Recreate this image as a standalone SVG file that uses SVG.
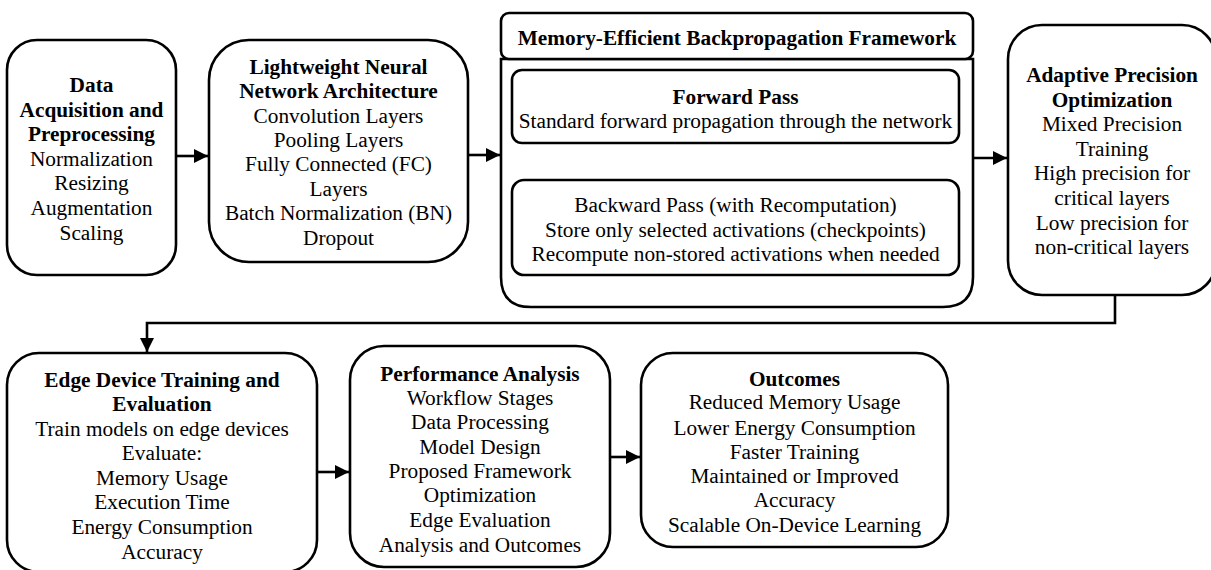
<svg xmlns="http://www.w3.org/2000/svg" width="1211" height="570" viewBox="0 0 1211 570">
<style>
.box{fill:#fff;stroke:#000;stroke-width:2.6}
.t{font-family:"Liberation Serif","Times New Roman",serif;font-size:21.3px;fill:#000;text-anchor:middle}
.b{font-weight:bold}
.c{fill:none;stroke:#000;stroke-width:2.6}
</style>
<defs>
<marker id="ah" markerUnits="userSpaceOnUse" markerWidth="16" markerHeight="16" refX="14" refY="7" orient="auto">
<path d="M0,0 L14,7 L0,14 Z" fill="#000"/>
</marker>
</defs>
<rect width="1211" height="570" fill="#fff"/>
<g id="connectors">
<line class="c" x1="176" y1="156" x2="208" y2="156" marker-end="url(#ah)"/>
<line class="c" x1="468" y1="155" x2="500" y2="155" marker-end="url(#ah)"/>
<line class="c" x1="973" y1="158" x2="1007" y2="158" marker-end="url(#ah)"/>
<polyline class="c" points="1115,295 1115,323 147,323 147,352" marker-end="url(#ah)"/>
<line class="c" x1="317" y1="472" x2="349" y2="472" marker-end="url(#ah)"/>
<line class="c" x1="610" y1="457" x2="640" y2="457" marker-end="url(#ah)"/>
</g>
<g id="n1">
<rect class="box" x="7" y="40" width="169" height="235" rx="30"/>
<text class="t b" x="91.5" y="92">Data</text>
<text class="t b" x="91.5" y="117">Acquisition and</text>
<text class="t b" x="91.5" y="141">Preprocessing</text>
<text class="t" x="91.5" y="166">Normalization</text>
<text class="t" x="91.5" y="190">Resizing</text>
<text class="t" x="91.5" y="215">Augmentation</text>
<text class="t" x="91.5" y="240">Scaling</text>
</g>
<g id="n2">
<rect class="box" x="209" y="40" width="259" height="222" rx="40"/>
<text class="t b" x="338.5" y="74">Lightweight Neural</text>
<text class="t b" x="338.5" y="98">Network Architecture</text>
<text class="t" x="338.5" y="123">Convolution Layers</text>
<text class="t" x="338.5" y="147">Pooling Layers</text>
<text class="t" x="338.5" y="171">Fully Connected (FC)</text>
<text class="t" x="338.5" y="196">Layers</text>
<text class="t" x="338.5" y="220">Batch Normalization (BN)</text>
<text class="t" x="338.5" y="245">Dropout</text>
</g>
<g id="n3">
<path class="box" d="M501,59 V277 Q501,307 531,307 H943 Q973,307 973,277 V59 Z"/>
<rect class="box" x="501" y="13" width="472" height="46" rx="8"/>
<text class="t b" x="737" y="45">Memory-Efficient Backpropagation Framework</text>
<g id="n3a">
<rect class="box" x="512" y="70" width="447" height="73" rx="10"/>
<text class="t b" x="735.5" y="104">Forward Pass</text>
<text class="t" x="735.5" y="128">Standard forward propagation through the network</text>
</g>
<g id="n3b">
<rect class="box" x="512" y="180" width="447" height="95" rx="12"/>
<text class="t" x="735.5" y="212">Backward Pass (with Recomputation)</text>
<text class="t" x="735.5" y="237">Store only selected activations (checkpoints)</text>
<text class="t" x="735.5" y="261">Recompute non-stored activations when needed</text>
</g>
</g>
<g id="n4">
<rect class="box" x="1008" y="25" width="208" height="270" rx="34"/>
<text class="t b" x="1112" y="82">Adaptive Precision</text>
<text class="t b" x="1112" y="107">Optimization</text>
<text class="t" x="1112" y="131">Mixed Precision</text>
<text class="t" x="1112" y="156">Training</text>
<text class="t" x="1112" y="180">High precision for</text>
<text class="t" x="1112" y="205">critical layers</text>
<text class="t" x="1112" y="230">Low precision for</text>
<text class="t" x="1112" y="254">non-critical layers</text>
</g>
<g id="n5">
<rect class="box" x="7" y="353" width="310" height="219" rx="32"/>
<text class="t b" x="162" y="387">Edge Device Training and</text>
<text class="t b" x="162" y="411">Evaluation</text>
<text class="t" x="162" y="436">Train models on edge devices</text>
<text class="t" x="162" y="460">Evaluate:</text>
<text class="t" x="162" y="485">Memory Usage</text>
<text class="t" x="162" y="509">Execution Time</text>
<text class="t" x="162" y="534">Energy Consumption</text>
<text class="t" x="162" y="559">Accuracy</text>
</g>
<g id="n6">
<rect class="box" x="350" y="346" width="260" height="221" rx="34"/>
<text class="t b" x="480" y="381">Performance Analysis</text>
<text class="t" x="480" y="405">Workflow Stages</text>
<text class="t" x="480" y="429">Data Processing</text>
<text class="t" x="480" y="454">Model Design</text>
<text class="t" x="480" y="478">Proposed Framework</text>
<text class="t" x="480" y="502">Optimization</text>
<text class="t" x="480" y="527">Edge Evaluation</text>
<text class="t" x="480" y="552">Analysis and Outcomes</text>
</g>
<g id="n7">
<rect class="box" x="641" y="353" width="307" height="194" rx="32"/>
<text class="t b" x="794.5" y="386">Outcomes</text>
<text class="t" x="794.5" y="409">Reduced Memory Usage</text>
<text class="t" x="794.5" y="435">Lower Energy Consumption</text>
<text class="t" x="794.5" y="459">Faster Training</text>
<text class="t" x="794.5" y="483">Maintained or Improved</text>
<text class="t" x="794.5" y="507">Accuracy</text>
<text class="t" x="794.5" y="532">Scalable On-Device Learning</text>
</g>
</svg>
